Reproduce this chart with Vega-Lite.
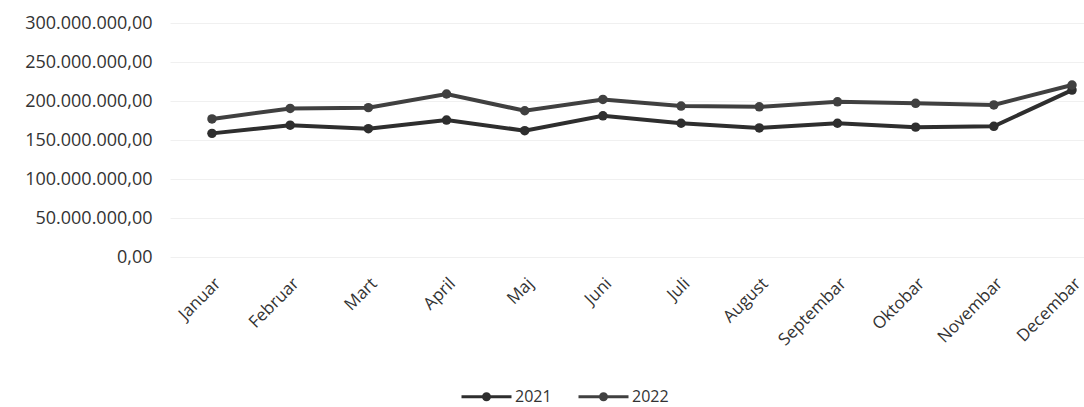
{
  "$schema": "https://vega.github.io/schema/vega-lite/v6.json",
  "width": 944,
  "height": 234,
  "autosize": "none",
  "padding": {"left": 170, "top": 23, "right": 0, "bottom": 150},
  "background": "white",
  "config": {"view": {"stroke": null}, "font": "Open Sans"},
  "data": {
    "values": [
      {"month": "Januar", "year": "2021", "value": 158500000},
      {"month": "Februar", "year": "2021", "value": 169000000},
      {"month": "Mart", "year": "2021", "value": 164500000},
      {"month": "April", "year": "2021", "value": 175500000},
      {"month": "Maj", "year": "2021", "value": 162000000},
      {"month": "Juni", "year": "2021", "value": 181000000},
      {"month": "Juli", "year": "2021", "value": 171500000},
      {"month": "August", "year": "2021", "value": 165500000},
      {"month": "Septembar", "year": "2021", "value": 171500000},
      {"month": "Oktobar", "year": "2021", "value": 166500000},
      {"month": "Novembar", "year": "2021", "value": 167500000},
      {"month": "Decembar", "year": "2021", "value": 214000000},
      {"month": "Januar", "year": "2022", "value": 177000000},
      {"month": "Februar", "year": "2022", "value": 190500000},
      {"month": "Mart", "year": "2022", "value": 191500000},
      {"month": "April", "year": "2022", "value": 209000000},
      {"month": "Maj", "year": "2022", "value": 187500000},
      {"month": "Juni", "year": "2022", "value": 202000000},
      {"month": "Juli", "year": "2022", "value": 193500000},
      {"month": "August", "year": "2022", "value": 192500000},
      {"month": "Septembar", "year": "2022", "value": 199000000},
      {"month": "Oktobar", "year": "2022", "value": 197000000},
      {"month": "Novembar", "year": "2022", "value": 195000000},
      {"month": "Decembar", "year": "2022", "value": 220500000}
    ]
  },
  "mark": {"type": "line", "strokeWidth": 4, "point": {"filled": true, "size": 90}},
  "encoding": {
    "x": {
      "field": "month",
      "type": "ordinal",
      "sort": ["Januar", "Februar", "Mart", "April", "Maj", "Juni", "Juli", "August", "Septembar", "Oktobar", "Novembar", "Decembar"],
      "scale": {"type": "point", "padding": 0.537},
      "axis": {
        "title": null,
        "labelAngle": -45,
        "domain": false,
        "ticks": false,
        "grid": false,
        "labelFontSize": 17,
        "labelColor": "#333333",
        "labelPadding": 18
      }
    },
    "y": {
      "field": "value",
      "type": "quantitative",
      "scale": {"domain": [0, 300000000]},
      "axis": {
        "title": null,
        "values": [0, 50000000, 100000000, 150000000, 200000000, 250000000, 300000000],
        "labelExpr": "replace(replace(replace(format(datum.value, ',.2f'), regexp(',', 'g'), '#'), regexp('[.]', 'g'), ','), regexp('#', 'g'), '.')",
        "domain": false,
        "ticks": false,
        "gridColor": "#f0f0f0",
        "labelFontSize": 18,
        "labelColor": "#333333",
        "labelPadding": 18
      }
    },
    "color": {
      "field": "year",
      "type": "nominal",
      "scale": {"domain": ["2021", "2022"], "range": ["#2e2e2e", "#404040"]},
      "legend": {
        "title": null,
        "orient": "none",
        "direction": "horizontal",
        "legendX": 290,
        "legendY": 347,
        "symbolType": "M-1,0H1M-0.12,0A0.12,0.12,0,1,1,0.12,0A0.12,0.12,0,1,1,-0.12,0Z",
        "symbolSize": 2500,
        "symbolStrokeWidth": 3,
        "labelFontSize": 16,
        "labelColor": "#333333",
        "labelOffset": 2,
        "columnPadding": 20,
        "encode": {"symbols": {"update": {"fill": {"value": "#333333"}}}}
      }
    }
  }
}
